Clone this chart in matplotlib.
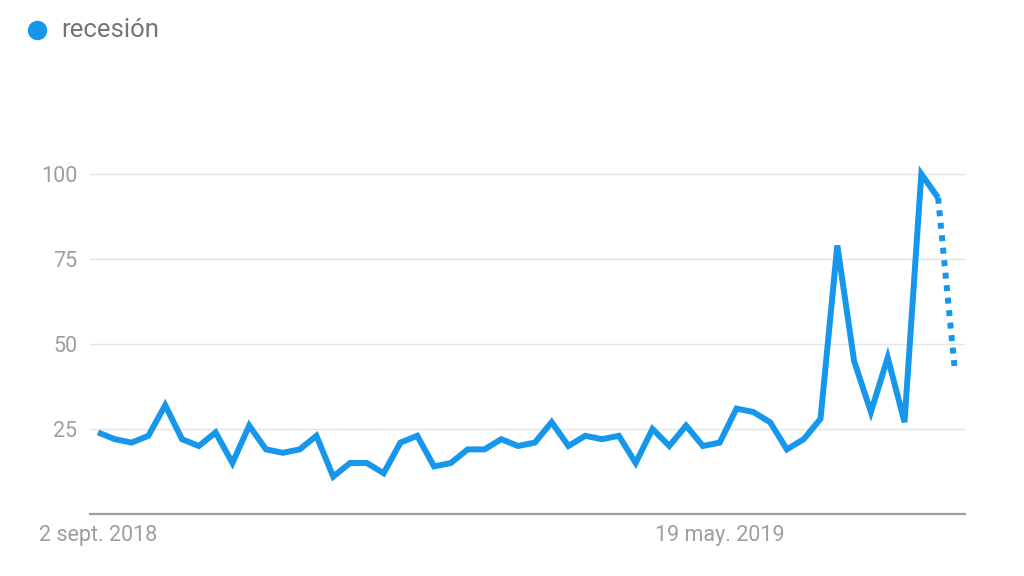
import matplotlib
matplotlib.use("Agg")
import matplotlib.pyplot as plt
from matplotlib.lines import Line2D

plt.rcParams['font.family'] = ['Roboto', 'DejaVu Sans']

series_name = "recesión"
values = [24, 22, 21, 23, 32, 22, 20, 24, 15, 26,
          19, 18, 19, 23, 11, 15, 15, 12, 21, 23,
          14, 15, 19, 19, 22, 20, 21, 27, 20, 23,
          22, 23, 15, 25, 20, 26, 20, 21, 31, 30,
          27, 19, 22, 28, 79, 45, 30, 46, 27, 100,
          93, 42]
x_tick_positions = [0, 37]
x_tick_labels = ["2 sept. 2018", "19 may. 2019"]
y_ticks = [25, 50, 75, 100]

blue = '#1797ec'
W, H = 1024, 576
fig = plt.figure(figsize=(W / 100, H / 100), dpi=100)
ax = fig.add_axes([90 / W, (576 - 514) / H, (965 - 90) / W, (514 - 157) / H])

n = len(values)
xs = list(range(n))
ax.plot(xs[:-1], values[:-1], color=blue, lw=4.3, solid_joinstyle='miter',
        solid_capstyle='butt', clip_on=False, zorder=3)
ax.plot(xs[-2:], values[-2:], color=blue, lw=4.3, linestyle=(0, (1.0, 1.1)),
        dash_capstyle='butt', clip_on=False, zorder=3)

ax.set_xlim(-0.476, 51.6)
ax.set_ylim(0, 105)
ax.set_yticks(y_ticks)
ax.set_yticklabels([str(v) for v in y_ticks])
ax.grid(axis='y', color='#e3e3e3', lw=1.0)
ax.set_axisbelow(True)
ax.set_xticks(x_tick_positions)
ax.set_xticklabels(x_tick_labels)
for s in ['top', 'right', 'left']:
    ax.spines[s].set_visible(False)
ax.spines['bottom'].set_color('#9e9e9e')
ax.spines['bottom'].set_linewidth(1.6)
ax.tick_params(axis='both', length=0, colors='#9e9e9e', labelsize=15.5)
ax.tick_params(axis='y', pad=9)
ax.tick_params(axis='x', pad=8)
labs = ax.get_xticklabels()
labs[0].set_horizontalalignment('center')

# legend
fig.add_artist(Line2D([37 / W], [1 - 30 / H], marker='o', markersize=13,
                      color=blue, linestyle='None', transform=fig.transFigure))
fig.text(61 / W, 1 - 30 / H, series_name, color='#757575', fontsize=18.5,
         va='center', ha='left')

fig.savefig('out.png', dpi=100)
